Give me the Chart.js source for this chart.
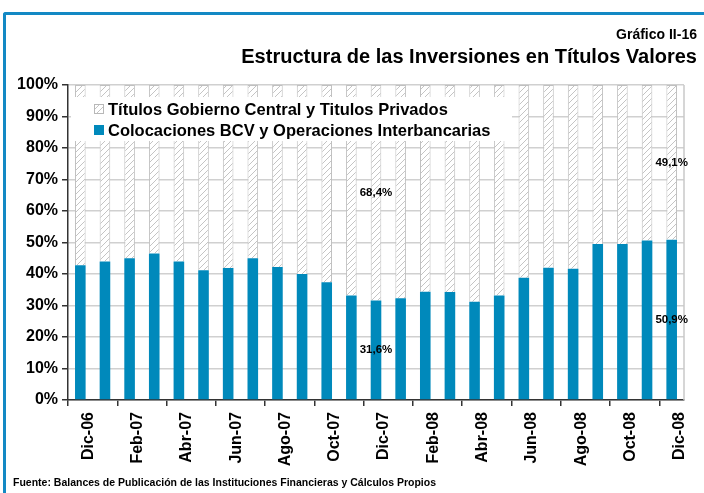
<!DOCTYPE html>
<html>
<head>
<meta charset="utf-8">
<script src="https://cdn.jsdelivr.net/npm/chart.js@4/dist/chart.umd.min.js"></script>
<style>
    html, body { margin: 0; padding: 0; background: #fff; }
    #wrap { position: relative; width: 704px; height: 493px; overflow: hidden; font-family: "Liberation Sans", Arial, sans-serif; }
    #frame { position: absolute; left: 3px; top: 12px; width: 720px; height: 500px; border-left: 3px solid #1389c4; border-top: 3px solid #1389c4; border-top-left-radius: 3px; }
    #chart { position: absolute; left: 0; top: 0; }
    .t { position: absolute; right: 7px; font-weight: bold; color: #000; white-space: nowrap; }
    #t1 { top: 26px; font-size: 14px; }
    #t2 { top: 45px; font-size: 20px; }
    #src { position: absolute; left: 13px; top: 476px; font-size: 10.5px; font-weight: bold; white-space: nowrap; }
</style>
</head>
<body>
<div id="wrap">
    <div id="frame"></div>
    <canvas id="chart" width="704" height="493"></canvas>
    <div class="t" id="t1">Gráfico II-16</div>
    <div class="t" id="t2">Estructura de las Inversiones en Títulos Valores</div>
    <div id="src">Fuente: Balances de Publicación de las Instituciones Financieras y Cálculos Propios</div>
</div>
<script>
(function() {
    'use strict';

    var months = ['Dic-06', 'Ene-07', 'Feb-07', 'Mar-07', 'Abr-07', 'May-07', 'Jun-07',
        'Jul-07', 'Ago-07', 'Sep-07', 'Oct-07', 'Nov-07', 'Dic-07', 'Ene-08', 'Feb-08',
        'Mar-08', 'Abr-08', 'May-08', 'Jun-08', 'Jul-08', 'Ago-08', 'Sep-08', 'Oct-08',
        'Nov-08', 'Dic-08'];

    var colocaciones = [42.8, 44.0, 45.0, 46.5, 44.0, 41.2, 41.9, 45.0, 42.2, 40.0, 37.4, 33.2,
        31.6, 32.3, 34.4, 34.3, 31.2, 33.2, 38.8, 42.0, 41.7, 49.5, 49.5, 50.6, 50.9];

    var titulos = [57.2, 56.0, 55.0, 53.5, 56.0, 58.8, 58.1, 55.0, 57.8, 60.0, 62.6, 66.8,
        68.4, 67.7, 65.6, 65.7, 68.8, 66.8, 61.2, 58.0, 58.3, 50.5, 50.5, 49.4, 49.1];

    var yTicks = [0, 10, 20, 30, 40, 50, 60, 70, 80, 90, 100];

    var seriesNames = ['Títulos Gobierno Central y Titulos Privados',
        'Colocaciones BCV y Operaciones Interbancarias'];

    // months that carry a value label
    var labelled = ['Dic-07', 'Dic-08'];

    var FONT = '"Liberation Sans", Arial, sans-serif';
    var BLUE = '#0089bb';

    function hatch() {
        var c = document.createElement('canvas');
        c.width = 6; c.height = 6;
        var g = c.getContext('2d');
        g.fillStyle = '#fff';
        g.fillRect(0, 0, 6, 6);
        g.strokeStyle = '#c4c4c4';
        g.lineWidth = 1;
        g.beginPath();
        g.moveTo(-1, 7); g.lineTo(7, -1);
        g.moveTo(-1, 1); g.lineTo(1, -1);
        g.moveTo(5, 7); g.lineTo(7, 5);
        g.stroke();
        return g.createPattern(c, 'repeat');
    }

    var ctx = document.getElementById('chart').getContext('2d');
    var pattern = hatch();

    var overlay = {
        id: 'overlay',
        afterDatasetsDraw: function(chart) {
            var c = chart.ctx, a = chart.chartArea;
            c.save();
            // right border
            c.strokeStyle = '#c8c8c8';
            c.lineWidth = 1.5;
            c.beginPath();
            c.moveTo(a.right, a.top);
            c.lineTo(a.right, a.bottom);
            c.stroke();

            // value labels at segment centres
            c.fillStyle = '#000';
            c.font = 'bold 11.5px ' + FONT;
            c.textAlign = 'center';
            c.textBaseline = 'middle';
            chart.data.datasets.forEach(function(ds, di) {
                var meta = chart.getDatasetMeta(di);
                labelled.forEach(function(m) {
                    var i = months.indexOf(m);
                    var el = meta.data[i];
                    var txt = ds.data[i].toFixed(1).replace('.', ',') + '%';
                    c.fillText(txt, el.x, (el.y + el.base) / 2);
                });
            });

            // legend box inside the plot
            c.fillStyle = '#fff';
            c.fillRect(a.left + 3, 97, 441, 44);
            var items = [{ fill: pattern, stroke: '#b8b8b8' }, { fill: BLUE, stroke: BLUE }];
            c.font = 'bold 16.5px ' + FONT;
            c.textAlign = 'left';
            items.forEach(function(it, k) {
                var cy = 109 + k * 21;
                c.fillStyle = it.fill;
                c.fillRect(94, cy - 5, 10, 10);
                c.strokeStyle = it.stroke;
                c.lineWidth = 1;
                c.strokeRect(94.5, cy - 4.5, 9, 9);
                c.fillStyle = '#000';
                c.fillText(seriesNames[k], 108, cy + 1);
            });
            c.restore();
        }
    };

    new Chart(ctx, {
        type: 'bar',
        data: {
            labels: months,
            datasets: [{
                label: seriesNames[1],
                data: colocaciones,
                backgroundColor: BLUE,
                borderWidth: 0,
                barPercentage: 0.43,
                categoryPercentage: 1
            }, {
                label: seriesNames[0],
                data: titulos,
                backgroundColor: pattern,
                borderColor: '#c0c0c0',
                borderWidth: 1,
                barPercentage: 0.43,
                categoryPercentage: 1
            }]
        },
        options: {
            responsive: false,
            animation: false,
            events: [],
            layout: { padding: { left: 0, right: 20, top: 85, bottom: 0 } },
            plugins: {
                legend: { display: false },
                title: { display: false },
                tooltip: { enabled: false }
            },
            scales: {
                x: {
                    stacked: true,
                    afterFit: function(s) { s.height = 93; },
                    grid: {
                        offset: true,
                        drawOnChartArea: false,
                        tickLength: 6,
                        lineWidth: 1.5,
                        color: function(c) { return c.index % 2 === 0 ? '#333' : 'rgba(0,0,0,0)'; }
                    },
                    border: { display: true, color: '#333', width: 1.5 },
                    ticks: {
                        autoSkip: false,
                        minRotation: 90,
                        maxRotation: 90,
                        labelOffset: 8,
                        padding: 6,
                        color: '#000',
                        font: { family: FONT, size: 16, weight: 'bold' },
                        callback: function(v, i) { return i % 2 === 0 ? months[i] : ''; }
                    }
                },
                y: {
                    stacked: true,
                    min: 0,
                    max: 100,
                    afterFit: function(s) { s.width = 68; },
                    afterBuildTicks: function(s) {
                        s.ticks = yTicks.map(function(v) { return { value: v }; });
                    },
                    grid: {
                        color: '#d0d0d0',
                        lineWidth: 1.5,
                        tickLength: 6,
                        tickColor: '#333'
                    },
                    border: { display: true, color: '#333', width: 1.5 },
                    ticks: {
                        padding: 4,
                        color: '#000',
                        font: { family: FONT, size: 16, weight: 'bold' },
                        callback: function(v) { return v + '%'; }
                    }
                }
            }
        },
        plugins: [overlay]
    });
})();
</script>
</body>
</html>
